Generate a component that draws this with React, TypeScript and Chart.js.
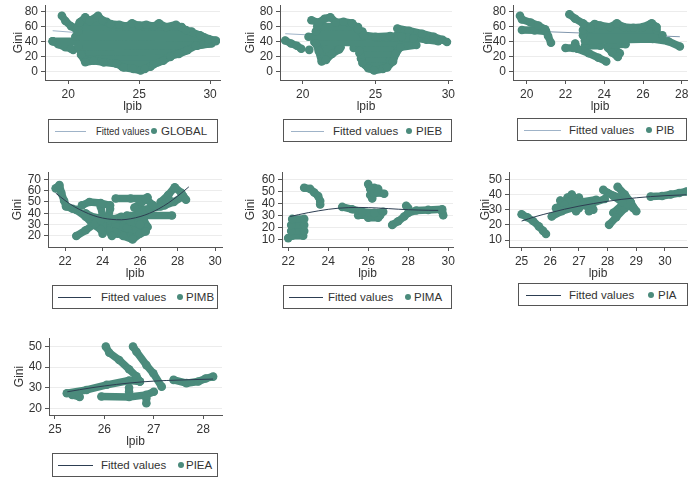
import React, { useEffect, useRef } from 'react';
import { Chart, registerables } from 'chart.js';
Chart.register(...registerables);

type Pt = [number, number];

const TEAL = '#4b8b7c';
const FIT_LIGHT = '#9fb3c8';
const FIT_DARK = '#2d3e52';
const FONT = "'Liberation Sans', Arial, sans-serif";

// ---------- data ----------
const GLOBAL_STRANDS: Pt[][] = [
  [[20.8, 66], [21.2, 73], [21.5, 68], [22.1, 75], [22.4, 69], [23.0, 64], [23.6, 63], [24.1, 61], [24.5, 65],
   [25.0, 62], [25.5, 63], [26.0, 61], [26.4, 65], [26.9, 60], [27.6, 63], [28.3, 56], [29.3, 49], [29.9, 44], [30.4, 42]],
  [[20.9, 23], [21.2, 13], [21.8, 15], [22.5, 13], [23.4, 11], [23.9, 6], [24.6, 4], [25.1, 2], [25.4, 4], [26.0, 10],
   [26.7, 15], [27.2, 21], [27.8, 24], [28.4, 29], [29.0, 35], [29.9, 38]],
  [[20.9, 67], [22.7, 67]],
  [[20.7, 61], [28.0, 60]],
  [[20.7, 54], [28.7, 54]],
  [[20.5, 47], [29.6, 46]],
  [[18.9, 41], [30.4, 41]],
  [[20.7, 34], [29.1, 35], [30.1, 38]],
  [[20.9, 27], [28.2, 28]],
  [[21.1, 20], [27.2, 20]],
  [[22.5, 13], [26.3, 13]],
  [[23.8, 7], [25.8, 7]],
  [[19.55, 75], [19.8, 68], [20.2, 61], [20.6, 56], [21.0, 52]],
  [[18.9, 41], [19.3, 37], [19.8, 33], [20.2, 31]],
  [[20.35, 29.5]],
];
const GLOBAL_FIT: Pt[] = [[18.9, 55], [30.5, 38]];

const PIEB_STRANDS: Pt[][] = [
  [[20.6, 69], [21.1, 66], [21.5, 71], [21.9, 73], [22.3, 66], [22.8, 67], [23.4, 65], [23.8, 57], [24.2, 49],
   [25.0, 47], [26.0, 48], [26.8, 47], [27.6, 45]],
  [[23.9, 28], [24.1, 12], [24.5, 5], [24.9, 2], [25.5, 4], [25.8, 6], [26.2, 14], [26.4, 25], [26.7, 33], [27.8, 36]],
  [[20.9, 38], [21.1, 28], [21.3, 14], [21.6, 16], [22.0, 24], [22.5, 30]],
  [[21.0, 61], [23.8, 60]],
  [[20.9, 54], [24.1, 54]],
  [[20.4, 47], [26.8, 46]],
  [[20.8, 40], [27.6, 38]],
  [[21.1, 33], [22.6, 33]],
  [[23.5, 32], [26.5, 33]],
  [[21.3, 25], [22.0, 24]],
  [[23.9, 25], [26.3, 24]],
  [[24.0, 18], [26.0, 17]],
  [[24.3, 10], [25.8, 10]],
  [[26.5, 58], [27.3, 55], [28.2, 51], [29.0, 47], [29.6, 43], [29.9, 40]],
  [[26.5, 49], [27.5, 46], [28.5, 43], [29.3, 41]],
  [[18.8, 42], [19.2, 38], [19.6, 35], [19.9, 31]],
  [[20.45, 29.5]],
];
const PIEB_FIT: Pt[] = [[18.8, 51], [30.1, 40]];

const PIB_STRANDS: Pt[][] = [
  [[19.65, 75], [19.75, 70], [20.2, 66], [20.6, 62], [20.95, 57], [21.1, 48], [21.25, 39]],
  [[19.75, 56], [20.4, 55.5], [21.0, 54]],
  [[22.2, 77], [22.5, 71], [22.9, 65], [23.3, 58]],
  [[22.0, 32], [22.4, 32]],
  [[22.5, 38], [22.6, 31], [23.2, 25], [23.7, 19], [24.1, 14]],
  [[23.2, 60], [23.5, 64], [23.8, 62], [24.3, 60], [24.65, 65], [25.0, 60], [25.5, 59], [26.0, 60], [26.45, 65], [26.7, 60]],
  [[22.9, 56], [26.7, 56]],
  [[22.9, 49], [27.0, 49]],
  [[23.0, 42], [26.5, 44], [27.3, 41], [27.9, 34]],
  [[23.0, 35], [23.8, 35]],
  [[24.2, 36], [25.1, 37]],
  [[24.2, 32], [24.4, 26], [24.7, 20]],
  [[24.5, 32], [24.8, 25]],
];
const PIB_FIT: Pt[] = [[19.7, 55], [27.9, 47]];

const PIMB_STRANDS: Pt[][] = [
  [[21.5, 62], [21.7, 65], [21.8, 58], [21.95, 51], [22.05, 46], [22.4, 44]],
  [[22.6, 20], [23.1, 25], [23.6, 31], [23.9, 34]],
  [[22.6, 43], [23.1, 37], [23.5, 30], [23.9, 26]],
  [[22.9, 47], [23.3, 50], [23.9, 49], [24.4, 47]],
  [[23.1, 40], [23.6, 36], [24.2, 36]],
  [[23.9, 46], [24.0, 38], [24.0, 30], [24.0, 22]],
  [[24.4, 44], [24.3, 34], [24.3, 25], [24.5, 20]],
  [[24.6, 35], [25.0, 37], [25.5, 33], [26.0, 30]],
  [[24.6, 24], [25.1, 20], [25.6, 17], [26.0, 22], [26.3, 24]],
  [[24.7, 29], [25.3, 27], [25.8, 25]],
  [[25.2, 32], [25.4, 24]],
  [[24.5, 32], [25.0, 30], [25.5, 28], [26.0, 27]],
  [[24.8, 22], [25.3, 24], [25.8, 21]],
  [[25.6, 35], [26.2, 34], [26.4, 28]],
  [[24.7, 53], [25.5, 53], [26.3, 53], [26.7, 47]],
  [[25.7, 45], [26.1, 50], [26.4, 54]],
  [[25.9, 43], [26.5, 44], [27.1, 46], [27.6, 51]],
  [[25.3, 38], [27.7, 38]],
  [[27.1, 50], [27.5, 56], [27.85, 63], [28.2, 58], [28.45, 52]],
  [[27.3, 47], [27.8, 50], [28.3, 55]],
];
const PIMB_FIT: Pt[] = [
  [21.5, 57.8], [22, 51.3], [22.5, 45.8], [23, 41.5], [23.5, 38.1], [24, 35.8], [24.5, 34.6],
  [25, 34.3], [25.5, 35.2], [26, 37.1], [26.5, 40], [27, 44], [27.5, 49], [28, 55.1], [28.6, 63.3],
];

const PIMA_STRANDS: Pt[][] = [
  [[22.2, 27], [22.8, 27]],
  [[22.15, 22], [22.8, 22]],
  [[22.15, 17], [22.8, 17]],
  [[22.2, 13], [22.75, 13]],
  [[22.0, 11]],
  [[22.8, 53], [23.1, 52], [23.3, 49], [23.5, 46], [23.6, 42], [23.6, 39]],
  [[24.7, 37], [25.2, 35], [25.7, 33], [26.3, 32], [26.75, 33]],
  [[25.5, 30], [26.6, 30]],
  [[26.0, 28], [26.5, 28]],
  [[26.0, 56], [26.1, 52], [26.3, 48], [26.5, 49], [26.8, 48]],
  [[26.1, 47], [26.2, 44]],
  [[26.3, 53], [26.5, 52]],
  [[27.2, 22], [27.5, 25], [27.8, 29], [28.0, 32], [28.4, 34], [29.0, 34.5], [29.7, 35]],
  [[27.9, 38], [28.0, 36]],
  [[29.7, 33], [29.75, 30]],
];
const PIMA_FIT: Pt[] = [
  [22.1, 29], [22.5, 30.5], [23, 32.2], [23.5, 33.7], [24, 35], [24.5, 35.9], [25, 36.4],
  [25.5, 36.6], [26, 36.4], [26.5, 36.1], [27, 35.6], [27.5, 35.1], [28, 34.7], [28.5, 34.4],
  [29, 34.2], [29.5, 34.1],
];

const PIA_STRANDS: Pt[][] = [
  [[25.0, 27], [25.2, 25], [25.4, 22.5], [25.6, 19], [25.75, 16], [25.85, 14]],
  [[26.05, 25.5], [26.4, 29], [26.9, 32], [27.4, 34], [27.9, 37]],
  [[26.35, 36], [26.5, 33]],
  [[26.75, 40], [26.9, 35]],
  [[26.9, 29], [27.0, 31]],
  [[27.35, 29], [27.45, 32]],
  [[27.1, 35], [27.6, 36.5]],
  [[26.2, 31], [26.6, 35], [27.0, 38]],
  [[26.6, 38], [26.8, 33]],
  [[27.2, 33], [27.5, 30]],
  [[27.85, 43], [28.2, 39], [28.5, 35], [28.9, 31]],
  [[28.05, 20], [28.3, 25], [28.6, 31], [28.8, 35]],
  [[28.35, 45], [28.6, 40], [28.8, 35], [29.0, 29]],
  [[28.0, 41], [28.4, 38], [28.7, 33]],
  [[28.2, 28], [28.5, 33]],
  [[29.5, 38.6], [29.9, 39], [30.2, 40], [30.5, 41], [30.75, 42]],
];
const PIA_FIT: Pt[] = [
  [25.0, 22.5], [25.5, 25.5], [26, 28], [26.5, 30.3], [27, 32.3], [27.5, 34], [28, 35.5],
  [28.5, 36.8], [29, 37.8], [29.5, 38.6], [30, 39.2], [30.5, 39.6], [30.75, 39.8],
];

const PIEA_STRANDS: Pt[][] = [
  [[26.03, 50], [26.1, 47], [26.3, 43.5], [26.5, 39], [26.65, 35.5], [26.72, 33]],
  [[26.58, 50], [26.65, 47.5], [26.85, 41], [26.99, 37], [27.16, 30.5]],
  [[25.24, 27.3], [25.64, 28.9], [26.05, 31.4], [26.5, 33.5], [26.72, 33]],
  [[25.35, 26.5], [25.5, 25.5]],
  [[25.94, 25.7], [26.5, 25.5], [26.85, 26.5], [27.0, 28]],
  [[26.5, 30], [26.5, 28]],
  [[26.85, 25], [26.85, 22.4]],
  [[27.4, 33.8], [27.66, 32.2], [27.9, 33], [28.05, 34.5], [28.2, 35.4]],
];
const PIEA_FIT: Pt[] = [
  [25.25, 28], [25.75, 30], [26.25, 31.6], [26.75, 32.8], [27.25, 33.5], [27.75, 33.9], [28.2, 34.2],
];

const X_TICKS_WIDE = [20, 25, 30];
const X_TICKS_PIB = [20, 22, 24, 26, 28];
const X_TICKS_MID = [22, 24, 26, 28, 30];
const X_TICKS_PIA = [25, 26, 27, 28, 29, 30];
const X_TICKS_PIEA = [25, 26, 27, 28];
const Y_TICKS_0_80 = [0, 20, 40, 60, 80];
const Y_TICKS_PIMB = [20, 30, 40, 50, 60, 70];
const Y_TICKS_PIMA = [10, 20, 30, 40, 50, 60];
const Y_TICKS_PIA = [10, 20, 30, 40, 50];
const Y_TICKS_PIEA = [20, 30, 40, 50];

const LABELS = ['GLOBAL', 'PIEB', 'PIB', 'PIMB', 'PIMA', 'PIA', 'PIEA'];

// ---------- panel configuration ----------
const PANELS = [
  { label: LABELS[0], strands: GLOBAL_STRANDS, fit: GLOBAL_FIT, xTicks: X_TICKS_WIDE, yTicks: Y_TICKS_0_80,
    xr: [18.36, 30.7], yr: [-10.7, 89.3], fitColor: FIT_LIGHT, fitOnTop: false,
    box: { axisX: 45, right: 220, top: 5, bottom: 80, giniPad: 11.8 },
    legend: { left: 48, top: 119, width: 170, height: 24, line: [6, 37], text: 47, dot: 105, lab: 112, squeeze: 0.82 } },
  { label: LABELS[1], strands: PIEB_STRANDS, fit: PIEB_FIT, xTicks: X_TICKS_WIDE, yTicks: Y_TICKS_0_80,
    xr: [18.44, 30.25], yr: [-10.7, 89.3], fitColor: FIT_LIGHT, fitOnTop: false,
    box: { axisX: 280, right: 452, top: 5, bottom: 80, giniPad: 8.8 },
    legend: { left: 283, top: 119, width: 169, height: 23, line: [7, 40], text: 49, dot: 125, lab: 132, squeeze: 1 } },
  { label: LABELS[2], strands: PIB_STRANDS, fit: PIB_FIT, xTicks: X_TICKS_PIB, yTicks: Y_TICKS_0_80,
    xr: [19.29, 28.27], yr: [-10.7, 89.3], fitColor: '#8096ad', fitOnTop: false,
    box: { axisX: 513, right: 687, top: 5, bottom: 80, giniPad: 13.8 },
    legend: { left: 517, top: 118, width: 170, height: 23, line: [6, 43], text: 51, dot: 131, lab: 138, squeeze: 1 } },
  { label: LABELS[3], strands: PIMB_STRANDS, fit: PIMB_FIT, xTicks: X_TICKS_MID, yTicks: Y_TICKS_PIMB,
    xr: [21.09, 30.37], yr: [10.3, 76.4], fitColor: FIT_DARK, fitOnTop: true,
    box: { axisX: 48, right: 222, top: 172, bottom: 247, giniPad: 7.8 },
    legend: { left: 52, top: 285, width: 166, height: 24, line: [5, 38], text: 48, dot: 127, lab: 133, squeeze: 1 } },
  { label: LABELS[4], strands: PIMA_STRANDS, fit: PIMA_FIT, xTicks: X_TICKS_MID, yTicks: Y_TICKS_PIMA,
    xr: [21.69, 30.24], yr: [3.6, 66.1], fitColor: FIT_DARK, fitOnTop: true,
    box: { axisX: 282, right: 453, top: 172, bottom: 247, giniPad: 6.8 },
    legend: { left: 283, top: 285, width: 169, height: 24, line: [5, 39], text: 44, dot: 124, lab: 130, squeeze: 1 } },
  { label: LABELS[5], strands: PIA_STRANDS, fit: PIA_FIT, xTicks: X_TICKS_PIA, yTicks: Y_TICKS_PIA,
    xr: [24.56, 30.77], yr: [5.4, 54.8], fitColor: FIT_DARK, fitOnTop: true,
    box: { axisX: 509, right: 687, top: 172, bottom: 247, giniPad: 14.8 },
    legend: { left: 518, top: 283, width: 170, height: 23, line: [7, 42], text: 50, dot: 132, lab: 139, squeeze: 1 } },
  { label: LABELS[6], strands: PIEA_STRANDS, fit: PIEA_FIT, xTicks: X_TICKS_PIEA, yTicks: Y_TICKS_PIEA,
    xr: [24.88, 28.38], yr: [16.7, 54.2], fitColor: FIT_DARK, fitOnTop: true,
    box: { axisX: 49, right: 222, top: 338, bottom: 415, giniPad: 8.8 },
    legend: { left: 52, top: 453, width: 166, height: 24, line: [5, 40], text: 48, dot: 128, lab: 133, squeeze: 1 } },
];

const Y_AXIS_W = 45;
const X_AXIS_H = 34;
const PAD_TOP = 5;
const PAD_RIGHT = 10;

function Panel({ p }: { p: any }) {
  const ref = useRef<HTMLCanvasElement>(null);
  const b = p.box;
  const canvasLeft = b.axisX - Y_AXIS_W;
  const canvasTop = b.top - PAD_TOP;
  const W = b.right - canvasLeft + PAD_RIGHT;
  const H = b.bottom + X_AXIS_H - canvasTop;

  useEffect(() => {
    if (!ref.current) return;
    const datasets: any[] = p.strands.map((s: Pt[]) => ({
      data: s.map(([x, y]) => ({ x, y })),
      showLine: true,
      borderColor: TEAL,
      backgroundColor: TEAL,
      borderWidth: 7.5,
      borderCapStyle: 'round',
      borderJoinStyle: 'round',
      pointRadius: 4.3,
      pointBorderWidth: 0,
      pointHoverRadius: 4.3,
      tension: 0,
      order: 2,
    }));
    datasets.push({
      data: p.fit.map(([x, y]: Pt) => ({ x, y })),
      showLine: true,
      borderColor: p.fitColor,
      borderWidth: 1,
      pointRadius: 0,
      tension: 0.4,
      cubicInterpolationMode: 'monotone',
      order: p.fitOnTop ? 1 : 3,
    });
    const tickFont = { family: FONT, size: 12 };
    const chart = new Chart(ref.current, {
      type: 'scatter',
      data: { datasets },
      options: {
        animation: false,
        responsive: false,
        devicePixelRatio: 1,
        events: [],
        layout: { padding: { left: 0, top: PAD_TOP, right: PAD_RIGHT, bottom: 0 } },
        plugins: { legend: { display: false }, tooltip: { enabled: false } },
        scales: {
          x: {
            type: 'linear',
            min: p.xr[0],
            max: p.xr[1],
            afterFit: (s: any) => { s.height = X_AXIS_H; s.paddingLeft = 0; s.paddingRight = 0; },
            afterBuildTicks: (s: any) => { s.ticks = p.xTicks.map((v: number) => ({ value: v })); },
            ticks: { font: tickFont, color: '#333', padding: 3, maxRotation: 0, autoSkip: false },
            grid: { drawOnChartArea: false, tickLength: 4, tickColor: '#555' },
            border: { display: true, color: '#555', width: 1 },
            title: { display: true, text: 'lpib', font: { family: FONT, size: 12 }, color: '#333', padding: 0 },
          },
          y: {
            type: 'linear',
            min: p.yr[0],
            max: p.yr[1],
            afterFit: (s: any) => { s.width = Y_AXIS_W; s.paddingTop = 0; s.paddingBottom = 0; },
            afterBuildTicks: (s: any) => { s.ticks = p.yTicks.map((v: number) => ({ value: v })); },
            ticks: { font: tickFont, color: '#333', padding: 3, autoSkip: false },
            grid: { color: '#ececec', tickLength: 4, tickColor: '#555' },
            border: { display: true, color: '#555', width: 1 },
            title: { display: true, text: 'Gini', font: { family: FONT, size: 12 }, color: '#333', padding: { top: p.box.giniPad, bottom: 0 } },
          },
        },
      } as any,
    });
    return () => chart.destroy();
  }, []);

  const lg = p.legend;
  return (
    <>
      <canvas
        ref={ref}
        width={W}
        height={H}
        style={{ position: 'absolute', left: canvasLeft, top: canvasTop, width: W, height: H }}
      />
      <div
        style={{
          position: 'absolute', left: lg.left, top: lg.top, width: lg.width, height: lg.height,
          border: '1px solid #555', boxSizing: 'border-box', fontFamily: FONT, fontSize: 11.5, color: '#333',
          background: '#fff',
        }}
      >
        <div style={{ position: 'absolute', left: lg.line[0], width: lg.line[1] - lg.line[0], top: '50%', height: 0, borderTop: `1px solid ${p.fitColor === FIT_DARK ? FIT_DARK : FIT_LIGHT}` }} />
        <span style={{ position: 'absolute', left: lg.text, top: '50%', transform: `translateY(-50%) scaleX(${lg.squeeze})`, transformOrigin: 'left center', whiteSpace: 'nowrap', lineHeight: '13px' }}>Fitted values</span>
        <div style={{ position: 'absolute', left: lg.dot - 3, top: '50%', marginTop: -3, width: 6, height: 6, borderRadius: 3, background: TEAL }} />
        <span style={{ position: 'absolute', left: lg.lab, top: '50%', transform: 'translateY(-50%)', whiteSpace: 'nowrap', lineHeight: '13px' }}>{p.label}</span>
      </div>
    </>
  );
}

export default function App() {
  return (
    <div style={{ position: 'absolute', left: 0, top: 0, width: 694, height: 499, background: '#fff', overflow: 'hidden' }}>
      {PANELS.map((p) => <Panel key={p.label} p={p} />)}
    </div>
  );
}
